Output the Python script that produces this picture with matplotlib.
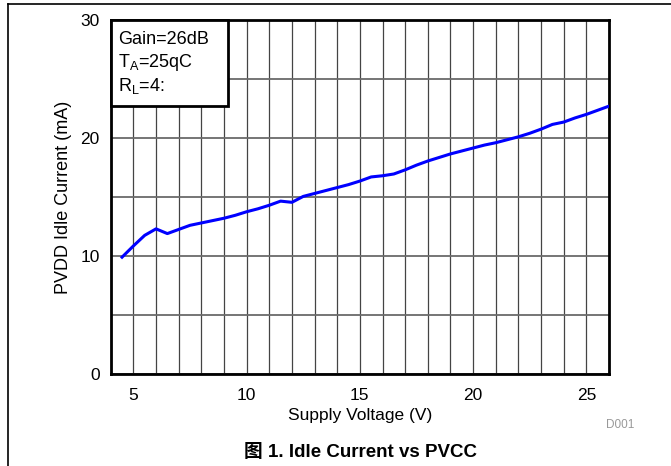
import matplotlib
matplotlib.use('Agg')
import matplotlib.pyplot as plt
from matplotlib import rc
from matplotlib.ticker import MultipleLocator
from matplotlib.lines import Line2D
from matplotlib.patches import Rectangle

rc('mathtext', default='regular')
plt.rcParams['font.family'] = ['Liberation Sans', 'Noto Sans CJK SC', 'DejaVu Sans']

# data
voltage = [4.5, 5.0, 5.5, 6.0, 6.5, 7.0, 7.5, 8.0, 8.5, 9.0, 9.5, 10.0,
           10.5, 11.0, 11.5, 12.0, 12.5, 13.0, 13.5, 14.0, 14.5, 15.0,
           15.5, 16.0, 16.5, 17.0, 17.5, 18.0, 18.5, 19.0, 19.5, 20.0,
           20.5, 21.0, 21.5, 22.0, 22.5, 23.0, 23.5, 24.0, 24.5, 25.0,
           25.5, 26.0]
idle_current = [9.9, 10.85, 11.75, 12.3, 11.9, 12.25, 12.6, 12.8, 13.0, 13.2,
                13.45, 13.75, 14.0, 14.3, 14.65, 14.55, 15.05, 15.3, 15.55,
                15.8, 16.05, 16.35, 16.7, 16.8, 16.95, 17.3, 17.7, 18.05,
                18.35, 18.65, 18.9, 19.15, 19.4, 19.6, 19.85, 20.1, 20.4,
                20.75, 21.15, 21.35, 21.7, 22.0, 22.35, 22.7]

xticks = [5, 10, 15, 20, 25]
yticks = [0, 10, 20, 30]
conditions = ['Gain=26dB', r'T$_{A}$=25qC', r'R$_{L}$=4:']

f = plt.figure(figsize=(6.71, 4.66), dpi=100)
ax1 = f.add_axes([0.165, 0.1974, 0.7426, 0.7597])

ax1.set_xlim(4, 26)
ax1.set_ylim(0, 30)
ax1.set_xticks(xticks)
ax1.set_xticklabels([str(t) for t in xticks], fontsize=12.5)
ax1.set_yticks(yticks)
ax1.set_yticklabels([str(t) for t in yticks], fontsize=12.5)
ax1.xaxis.set_minor_locator(MultipleLocator(1))
ax1.yaxis.set_minor_locator(MultipleLocator(5))
ax1.tick_params(which='both', length=0)
ax1.tick_params(axis='x', pad=10)
ax1.tick_params(axis='y', pad=8)
ax1.grid(which='both', axis='x', color='#444444', linewidth=0.9)
ax1.grid(which='both', axis='y', color='#6a6a6a', linewidth=1.3)
ax1.set_axisbelow(True)
for s in ax1.spines.values():
    s.set_linewidth(2)
    s.set_color('black')

ax1.plot(voltage, idle_current, color='#0000ff', linewidth=2.2, zorder=3)

# conditions box
ax1.add_patch(Rectangle((0, 0.757), 0.235, 0.243, transform=ax1.transAxes,
                        facecolor='white', edgecolor='black', linewidth=2,
                        zorder=4, clip_on=False))
ax1.text(0.015, 0.968, '\n'.join(conditions), transform=ax1.transAxes,
         ha='left', va='top', fontsize=13, linespacing=1.22, zorder=5)

# labels
ax1.set_xlabel('Supply Voltage (V)', fontsize=12.5, labelpad=4)
ax1.set_ylabel('PVDD Idle Current (mA)', fontsize=13, labelpad=6)
f.text(0.925, 0.082, 'D001', color='#999999', fontsize=8.5, ha='center')
f.text(0.537, 0.02, '图 1. Idle Current vs PVCC', fontsize=13.5,
       fontweight='bold', ha='center')

# page frame
f.add_artist(Line2D([0.012, 0.012], [0, 0.991], color='black', lw=1.2,
                    transform=f.transFigure))
f.add_artist(Line2D([0.012, 1.0], [0.991, 0.991], color='black', lw=1.2,
                    transform=f.transFigure))

f.savefig('out.png', dpi=100)
